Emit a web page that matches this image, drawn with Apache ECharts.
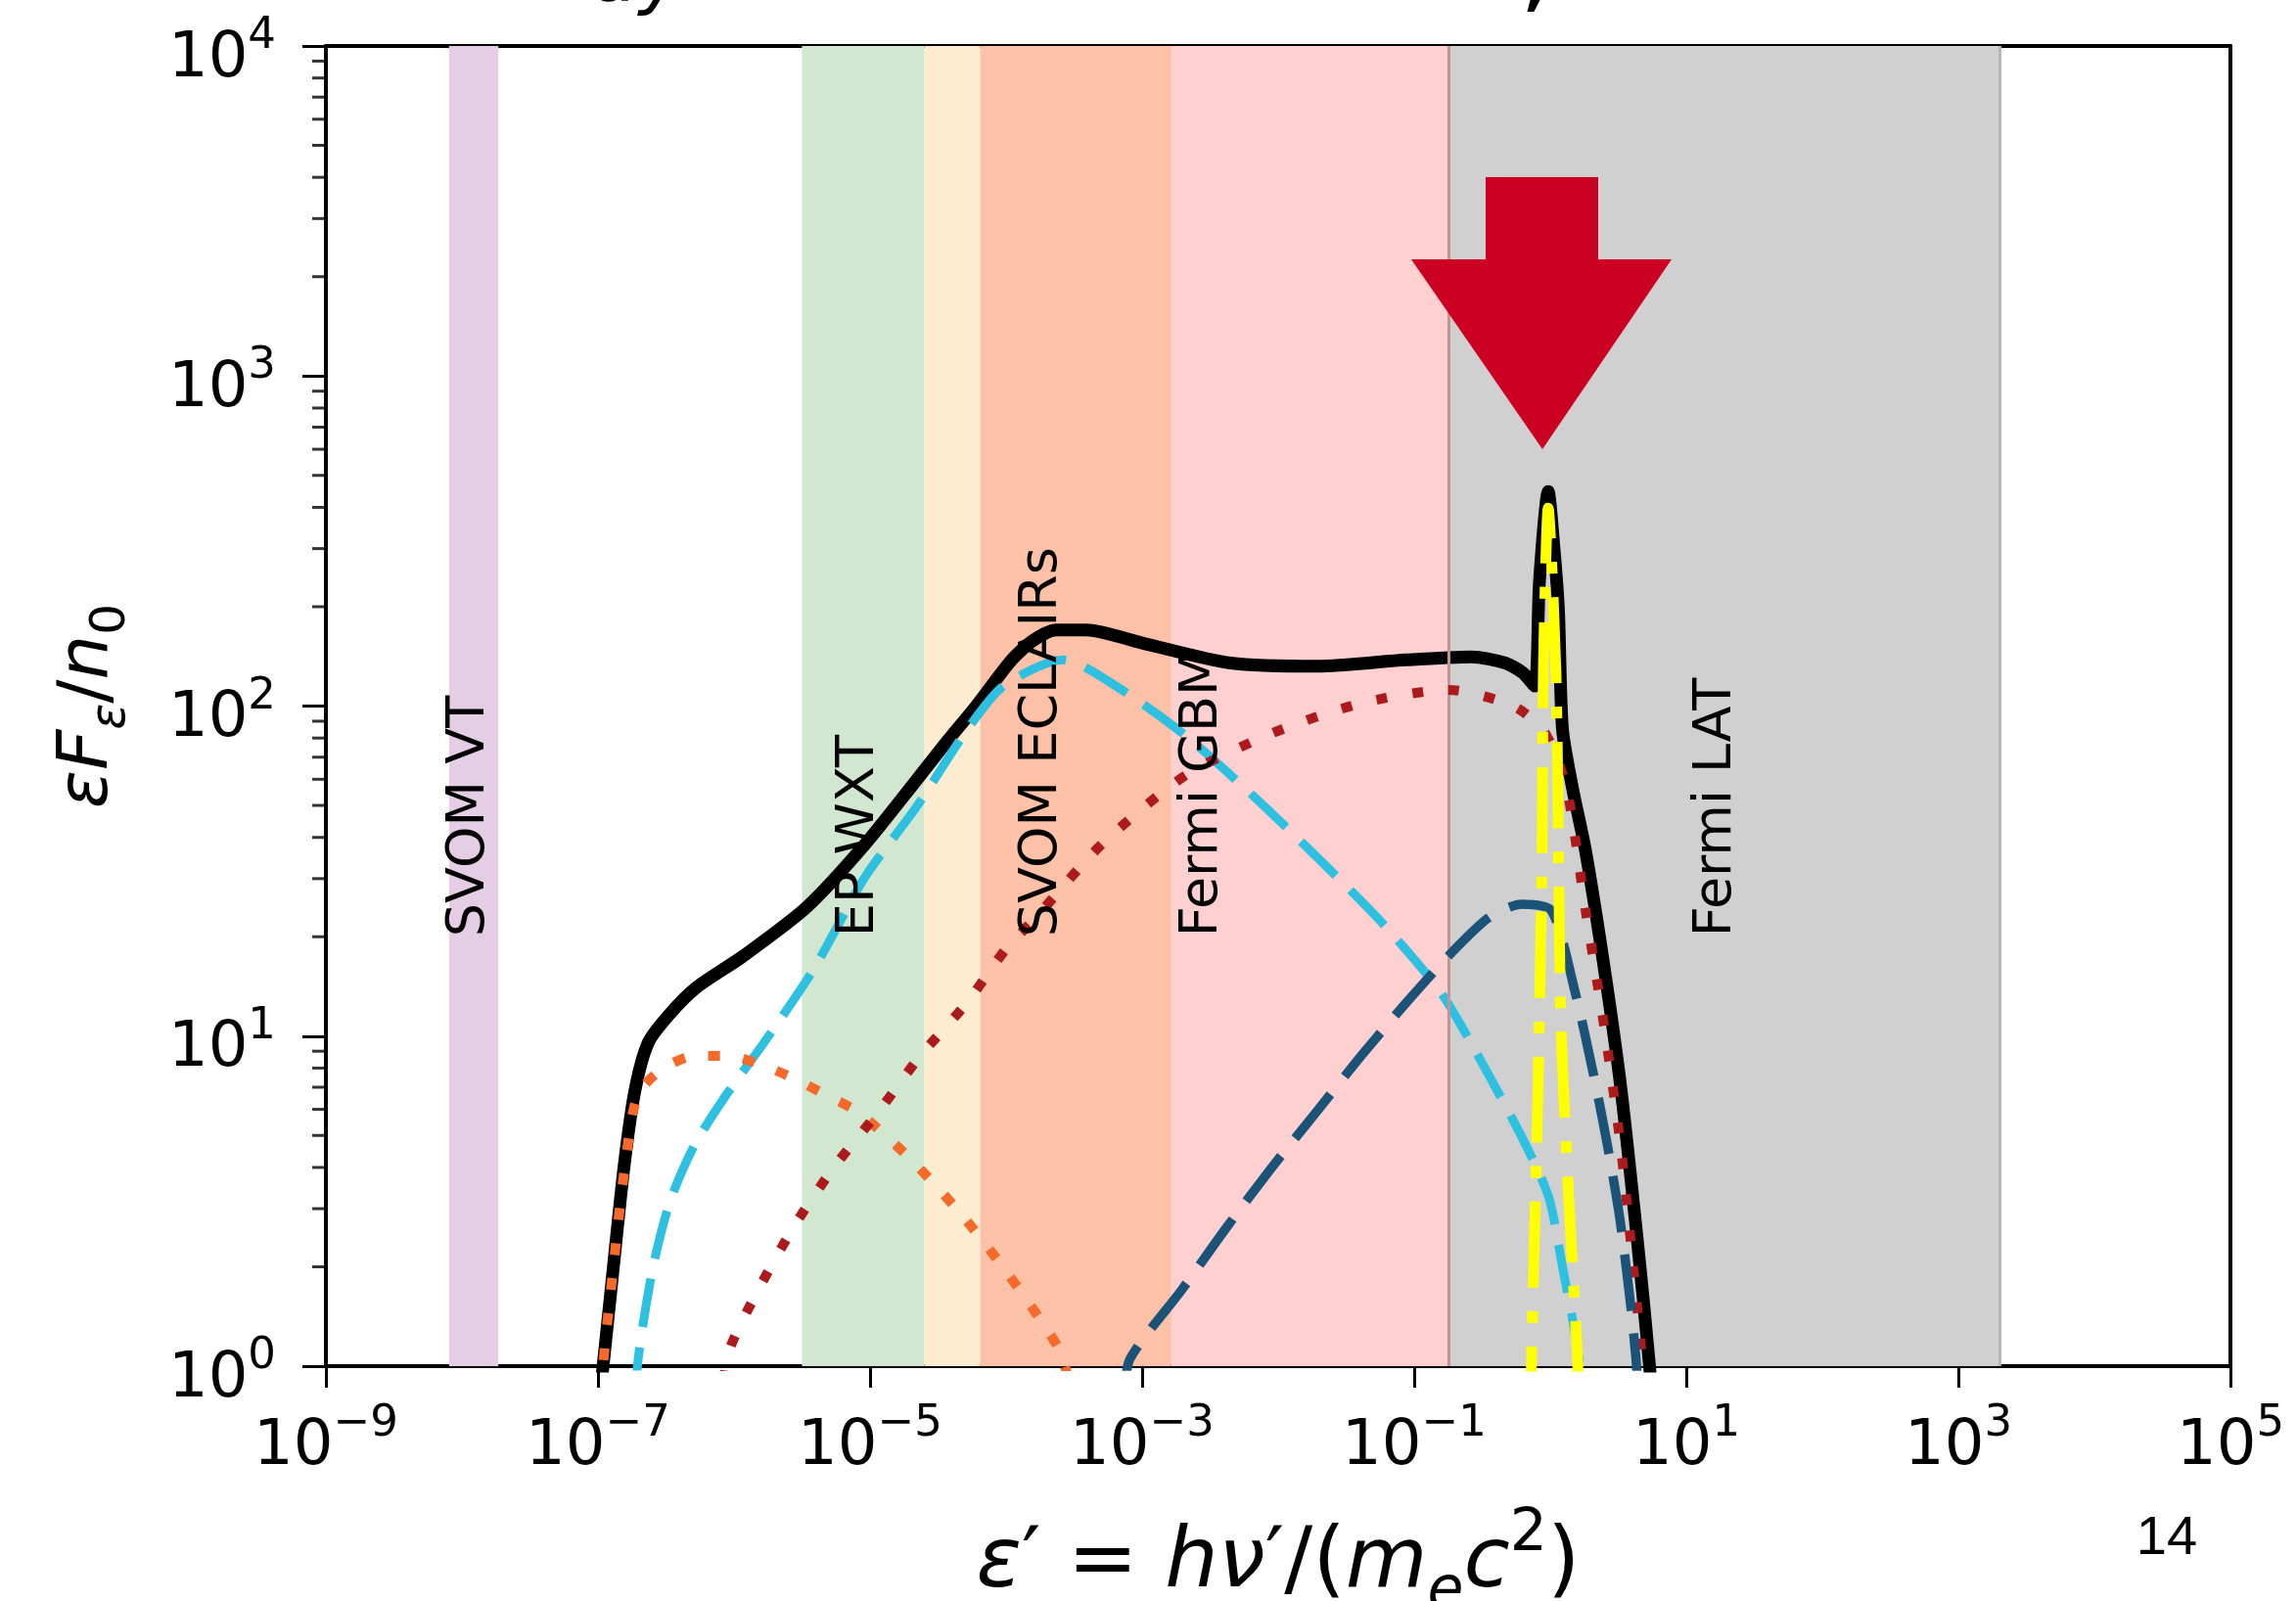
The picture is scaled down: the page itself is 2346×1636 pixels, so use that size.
<!DOCTYPE html>
<html>
<head>
<meta charset="utf-8">
<title>spectrum</title>
<script src="https://cdn.jsdelivr.net/npm/echarts@6.0.0/dist/echarts.min.js"></script>
<style>
html, body { margin: 0; padding: 0; background: #fff; }
#spec { width: 2346px; height: 1636px; }
</style>
</head>
<body>
<div id="spec"></div>
<script>
// eps' = h nu'/(m_e c^2) against eps F_eps / n0
var totalSpec = [
  [9.1e-8, 0.5], [1.09e-7, 1.0], [1.29e-7, 1.95], [1.55e-7, 3.98], [1.86e-7, 6.76],
  [2.34e-7, 9.55], [3.39e-7, 11.7], [5.37e-7, 14.1], [1.15e-6, 17.4], [3.39e-6, 24.5],
  [9.12e-6, 38.0], [2.24e-5, 60.3], [3.63e-5, 77.6], [6.03e-5, 100], [1.10e-4, 138],
  [1.58e-4, 158], [2.34e-4, 170], [3.89e-4, 170], [1.02e-3, 155], [4.47e-3, 135],
  [1.95e-2, 132], [8.71e-2, 138], [0.263, 141], [0.468, 135], [0.631, 126],
  [0.767, 115], [0.834, 240], [0.966, 447], [1.07, 295], [1.15, 195], [1.23, 85.1],
  [1.46, 56.2], [1.82, 36.3], [2.51, 15.8], [3.31, 6.92], [4.37, 2.40], [5.37, 1.0], [6.03, 0.5]
];
var dashLight = [
  [1.82e-7, 0.5], [1.95e-7, 1.0], [2.51e-7, 1.95], [3.39e-7, 3.16], [5.13e-7, 4.68],
  [8.71e-7, 6.61], [1.66e-6, 9.55], [3.80e-6, 15.8], [9.12e-6, 30.2], [2.24e-5, 50.1],
  [5.01e-5, 83.2], [9.55e-5, 115], [2.63e-4, 138], [7.08e-4, 112], [2.09e-3, 81.3],
  [6.46e-3, 53.7], [1.95e-2, 34.7], [5.89e-2, 21.9], [0.158, 13.5], [0.355, 7.59],
  [0.661, 4.68], [0.977, 3.24], [1.23, 2.0], [1.62, 1.07], [1.78, 0.63]
];
var dotRed = [
  [7.94e-7, 0.7], [9.12e-7, 1.10], [1.55e-6, 1.74], [2.82e-6, 2.69], [5.37e-6, 3.98],
  [1.15e-5, 5.89], [2.34e-5, 8.71], [5.13e-5, 12.6], [1.02e-4, 18.6], [1.58e-4, 22.4],
  [5.01e-4, 38.0], [2.09e-3, 61.7], [9.33e-3, 83.2], [4.07e-2, 102], [0.178, 112],
  [0.537, 100], [0.912, 83.2], [1.32, 56.2], [1.82, 24.0], [2.51, 10.5], [3.31, 4.57],
  [4.17, 1.82], [4.68, 1.10], [5.01, 0.7]
];
var dotOrange = [
  [1.0e-7, 0.5], [1.09e-7, 1.0], [1.29e-7, 1.95], [1.55e-7, 3.80], [1.95e-7, 6.61],
  [2.95e-7, 7.94], [5.13e-7, 8.71], [9.12e-7, 8.71], [1.66e-6, 8.13], [2.82e-6, 7.41],
  [4.79e-6, 6.61], [8.13e-6, 5.89], [1.95e-5, 4.27], [4.47e-5, 2.95], [9.12e-5, 2.04],
  [1.86e-4, 1.35], [2.51e-4, 1.10], [3.16e-4, 0.79]
];
var dashDark = [
  [7.41e-4, 0.79], [8.13e-4, 1.05], [1.95e-3, 1.70], [4.17e-3, 2.63], [8.91e-3, 3.98],
  [1.91e-2, 5.89], [4.07e-2, 8.71], [8.71e-2, 12.6], [0.186, 17.8], [0.355, 22.9],
  [0.617, 25.1], [1.02, 24.0], [1.51, 13.8], [2.09, 7.59], [2.63, 4.68], [3.24, 2.82],
  [3.89, 1.55], [4.27, 1.05], [4.57, 0.7]
];
var lineYellow = [
  [0.716, 0.63], [0.730, 1.10], [0.813, 6.92], [0.871, 36.3], [0.891, 129], [0.966, 398],
  [1.10, 129], [1.15, 36.3], [1.20, 10.5], [1.38, 3.02], [1.58, 1.10], [1.66, 0.63]
];

// instrument bands
var bandRanges = [[8.05e-9, 1.85e-8], [3.16e-6, 2.51e-5], [2.51e-5, 6.46e-5], [6.46e-5, 1.64e-3], [1.64e-3, 0.176], [0.176, 2.0e3]];
var bandFill = ['#e6cde6', '#d1e7cf', '#feecd1', '#fdc1a8', '#ffd0d0', '#d0d0d0'];
var bandEdges = [8.05e-9, 1.85e-8, 3.16e-6, 2.51e-5, 6.46e-5, 1.64e-3, 0.176, 2.0e3];
var edgeColors = ['#d6aed6', '#d6aed6', '#b4d6ac', '#d0d298', '#f7a493', '#fbb692', '#c29494', '#b6b6b6'];
var bandLabels = ['SVOM VT', 'EP WXT', 'SVOM ECLAIRs', 'Fermi GBM', 'Fermi LAT'];
var bandLabelX = [1.15e-8, 8.3e-6, 1.86e-4, 2.8e-3, 16.6];
var bandLabelY = 20;

var arrowAt = [0.876, 600];
var minorFactors = [2, 3, 4, 5, 6, 7, 8, 9];
var yDecades = [1, 10, 100, 1000];

var FONT = 'DejaVu Sans';
var minorTicks = [];
yDecades.forEach(function (d) {
  minorFactors.forEach(function (f) { minorTicks.push([1e-9, d * f]); });
});

function powLabel(v) {
  var e = Math.round(Math.log(v) / Math.LN10);
  return '{b|10}{s|' + (e < 0 ? '\u2212' + (-e) : e) + '}';
}
var tickRich = {
  b: { fontSize: 64, fontFamily: FONT, color: '#000', lineHeight: 64, padding: [14, 0, 0, 0], verticalAlign: 'top' },
  s: { fontSize: 45, fontFamily: FONT, color: '#000', lineHeight: 45, verticalAlign: 'top' }
};
function mathRich(size) {
  var sub = Math.round(size * 0.7);
  var top = Math.round(size * 0.21);
  var drop = Math.round(size * 0.69);
  return {
    i: { fontSize: size, fontFamily: FONT, fontStyle: 'italic', color: '#000', lineHeight: size, padding: [top, 0, 0, 0], verticalAlign: 'top' },
    n: { fontSize: size, fontFamily: FONT, color: '#000', lineHeight: size, padding: [top, 0, 0, 0], verticalAlign: 'top' },
    sb: { fontSize: sub, fontFamily: FONT, fontStyle: 'italic', color: '#000', lineHeight: sub, padding: [drop, 0, 0, 0], verticalAlign: 'top' },
    sbn: { fontSize: sub, fontFamily: FONT, color: '#000', lineHeight: sub, padding: [drop, 0, 0, 0], verticalAlign: 'top' },
    sp: { fontSize: sub, fontFamily: FONT, color: '#000', lineHeight: sub, verticalAlign: 'top' }
  };
}

var spine = { show: true, onZero: false, lineStyle: { color: '#000', width: 4 } };

function curve(name, data, color, width, type, z) {
  return {
    name: name, type: 'line', data: data, z: z, symbol: 'none', smooth: 0.25,
    silent: true, clip: true,
    lineStyle: { color: color, width: width, type: type, cap: 'butt', join: 'round' }
  };
}

var chart = echarts.init(document.getElementById('spec'));
var option = {
  animation: false,
  backgroundColor: '#fff',
  grid: { left: 333, right: 67, top: 47, bottom: 240, containLabel: false, outerBoundsMode: 'none' },
  xAxis: [{
    type: 'log', logBase: 10, min: 1e-9, max: 1e5, interval: 2,
    axisLine: spine,
    axisTick: { show: true, length: 22, lineStyle: { color: '#000', width: 3 } },
    axisLabel: { margin: 37, formatter: powLabel, rich: tickRich },
    splitLine: { show: false },
    name: '{i|\u03b5}{n|\u2032 = }{i|h\u03bd}{n|\u2032/(}{i|m}{sb|e}{i|c}{sp|2}{n|)}',
    nameLocation: 'middle', nameGap: 142,
    nameTextStyle: { rich: mathRich(86) }
  }, {
    type: 'log', logBase: 10, min: 1e-9, max: 1e5, position: 'top',
    axisLine: spine, axisTick: { show: false }, axisLabel: { show: false }, splitLine: { show: false }
  }],
  yAxis: [{
    type: 'log', logBase: 10, min: 1, max: 1e4, interval: 1,
    axisLine: spine,
    axisTick: { show: true, length: 24, lineStyle: { color: '#000', width: 3 } },
    axisLabel: { margin: 51, formatter: powLabel, rich: tickRich },
    splitLine: { show: false },
    name: '{i|\u03b5F}{sb|\u03b5}{n|/}{i|n}{sbn|0}',
    nameLocation: 'middle', nameGap: 222, nameRotate: 90,
    nameTextStyle: { rich: mathRich(72) }
  }, {
    type: 'log', logBase: 10, min: 1, max: 1e4, position: 'right',
    axisLine: spine, axisTick: { show: false }, axisLabel: { show: false }, splitLine: { show: false }
  }],
  series: [
    {
      name: 'bands', type: 'line', data: [], z: 1, silent: true,
      markArea: {
        silent: true,
        data: bandRanges.map(function (r, i) {
          return [{ xAxis: r[0], itemStyle: { color: bandFill[i] } }, { xAxis: r[1] }];
        })
      },
      markLine: {
        silent: true, symbol: ['none', 'none'], label: { show: false },
        lineStyle: { width: 3, type: 'solid' },
        data: bandEdges.map(function (x, i) {
          return { xAxis: x, lineStyle: { color: edgeColors[i], width: 3, type: 'solid' } };
        })
      }
    },
    curve('total', totalSpec, '#000000', 13, 'solid', 3),
    curve('light dashed', dashLight, '#2ec0e0', 9, [50, 21], 4),
    curve('orange dotted', dotOrange, '#f5692a', 10, [12, 24], 5),
    curve('red dotted', dotRed, '#ad1a1c', 10, [11, 26], 6),
    curve('dark dashed', dashDark, '#1b5378', 9.5, [58, 23], 7),
    curve('yellow dash-dot', lineYellow, '#ffff00', 11, [88, 24, 12, 24], 8),
    {
      name: 'minor ticks', type: 'scatter', data: minorTicks, z: 10, silent: true, clip: false,
      symbol: 'rect', symbolSize: [14, 3], symbolOffset: [-7, 0],
      itemStyle: { color: '#000' }
    }
  ]
};
chart.setOption(option);

// band labels and the arrow, placed through the axes
var gfx = [];
bandLabels.forEach(function (t, i) {
  var p = chart.convertToPixel({ gridIndex: 0 }, [bandLabelX[i], bandLabelY]);
  gfx.push({
    type: 'text', x: p[0], y: p[1], rotation: Math.PI / 2, z: 20, silent: true,
    style: { text: t, fontSize: 54, fontFamily: FONT, fill: '#000', align: 'left', verticalAlign: 'middle' }
  });
});
var tip = chart.convertToPixel({ gridIndex: 0 }, arrowAt);
gfx.push({
  type: 'polygon', x: tip[0], y: tip[1], z: 20, silent: true,
  shape: { points: [[-58, -278], [57, -278], [57, -194], [132, -194], [0, 0], [-134, -194], [-58, -194]] },
  style: { fill: '#cc0022' }
});
// page number and the cut-off title line above the frame
gfx.push({
  type: 'text', x: 2214, y: 1573, z: 20, silent: true,
  style: { text: '14', fontSize: 56, fontFamily: 'Liberation Sans', fill: '#000', align: 'center', verticalAlign: 'middle' }
});
gfx.push({
  type: 'text', x: 604, y: -20, z: 20, silent: true,
  style: { text: 'dyn', fontSize: 77, fontFamily: FONT, fontStyle: 'italic', fill: '#000', align: 'left', verticalAlign: 'middle' }
});
gfx.push({
  type: 'text', x: 1552, y: -30, z: 20, silent: true,
  style: { text: ',', fontSize: 110, fontFamily: FONT, fill: '#000', align: 'left', verticalAlign: 'middle' }
});
chart.setOption({ graphic: gfx });
</script>
</body>
</html>
